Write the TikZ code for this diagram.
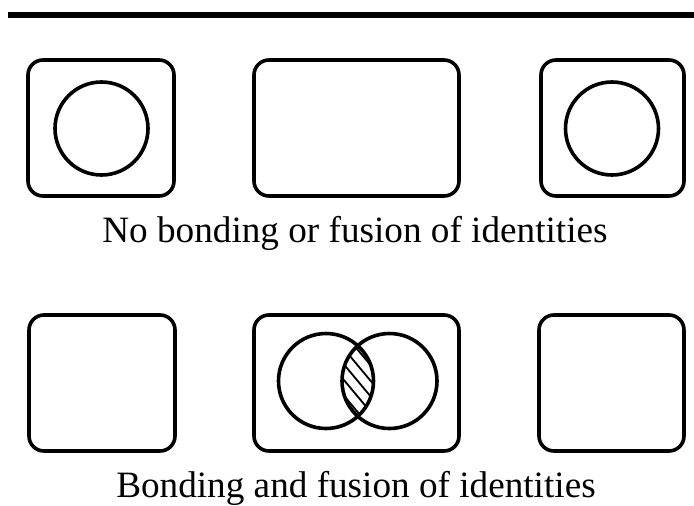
\documentclass[tikz,border=0pt]{standalone}
\usepackage{fontspec}
\setmainfont{Liberation Serif}
\begin{document}
\begin{tikzpicture}[x=1pt,y=-1pt,
  frame/.style={draw,line width=3.6pt,rounded corners=15pt},
  ring/.style={draw,line width=3.6pt},
  captext/.style={font=\fontsize{37.2}{42}\selectfont,inner sep=0pt,anchor=base}]
\useasboundingbox (0,0) rectangle (694,506);
\fill (8,12) rectangle (694,17.5);
% top row
\draw[frame] (28,60) rectangle (174,196);
\draw[frame] (254,60) rectangle (459,196);
\draw[frame] (541,60) rectangle (684,196);
\node[ring,circle,minimum size=93pt,inner sep=0pt] (c1) at (101.5,128.5) {};
\node[ring,circle,minimum size=93pt,inner sep=0pt] (c2) at (612,128.5) {};
\node[captext] (t1) at (355,242) {No bonding or fusion of identities};
% bottom row
\draw[frame] (29,315) rectangle (175,451);
\draw[frame] (254,315) rectangle (459,451);
\draw[frame] (539,315) rectangle (684,451);
\coordinate (a) at (326,381);
\coordinate (b) at (389.5,381);
\begin{scope}
  \clip (a) circle (47);
  \clip (b) circle (47);
  \foreach \k in {-78,-65,...,78}
    \draw[line width=1.8pt] ([shift={(\k-50,-60)}]357.75,381) -- ++(100,120);
\end{scope}
\node[ring,circle,minimum size=95pt,inner sep=0pt] (c3) at (a) {};
\node[ring,circle,minimum size=95pt,inner sep=0pt] (c4) at (b) {};
\node[captext] (t2) at (356,497) {Bonding and fusion of identities};
\end{tikzpicture}
\end{document}
